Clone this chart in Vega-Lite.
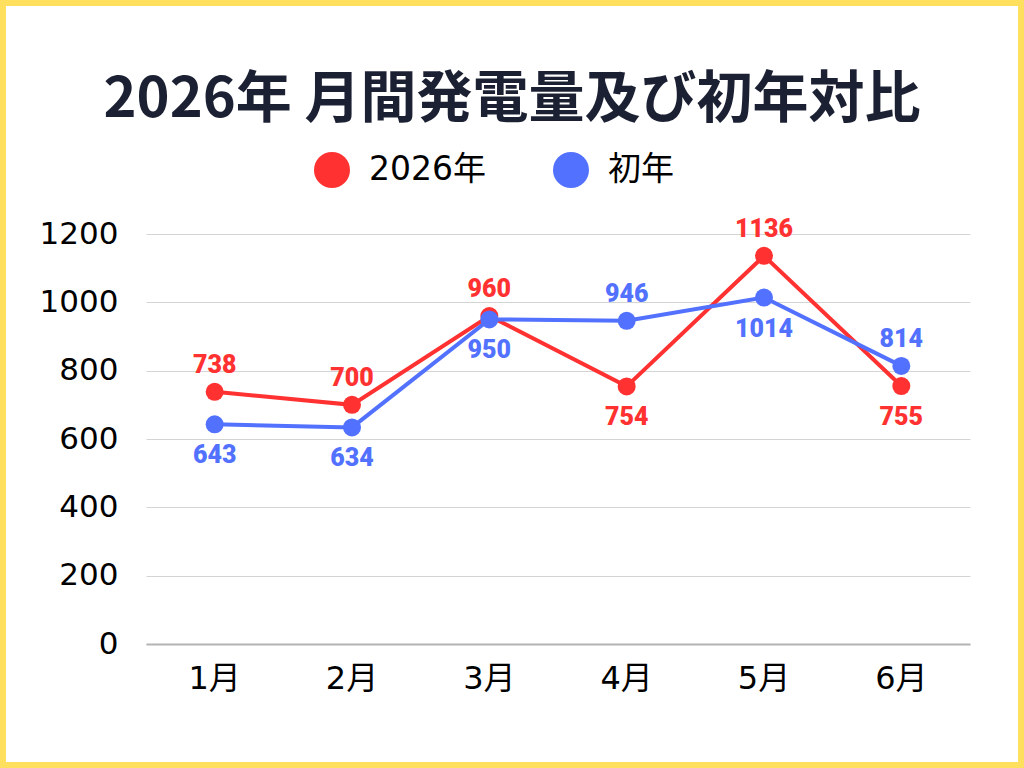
{
  "$schema": "https://vega.github.io/schema/vega-lite/v6.json",
  "width": 1024,
  "height": 768,
  "autosize": "none",
  "padding": 0,
  "background": "#ffffff",
  "title": {
    "text": "2026年 月間発電量及び初年対比",
    "frame": "group",
    "anchor": "middle",
    "offset": -173,
    "baseline": "alphabetic",
    "font": "Noto Sans CJK JP",
    "fontSize": 56,
    "fontWeight": "bold",
    "color": "#1c2033"
  },
  "data": {
    "values": [
      {"month": "1月", "series": "2026年", "value": 738},
      {"month": "1月", "series": "初年", "value": 643},
      {"month": "2月", "series": "2026年", "value": 700},
      {"month": "2月", "series": "初年", "value": 634},
      {"month": "3月", "series": "2026年", "value": 960},
      {"month": "3月", "series": "初年", "value": 950},
      {"month": "4月", "series": "2026年", "value": 754},
      {"month": "4月", "series": "初年", "value": 946},
      {"month": "5月", "series": "2026年", "value": 1136},
      {"month": "5月", "series": "初年", "value": 1014},
      {"month": "6月", "series": "2026年", "value": 755},
      {"month": "6月", "series": "初年", "value": 814}
    ]
  },
  "transform": [
    {"joinaggregate": [{"op": "max", "field": "value", "as": "monthMax"}], "groupby": ["month"]}
  ],
  "encoding": {
    "x": {
      "field": "month",
      "type": "nominal",
      "sort": null,
      "scale": {"type": "band", "range": [146, 970], "paddingInner": 0, "paddingOuter": 0},
      "axis": {
        "title": null,
        "orient": "bottom",
        "offset": -124,
        "labelAngle": 0,
        "ticks": false,
        "domain": true,
        "domainColor": "#b3b3b3",
        "domainWidth": 2,
        "grid": false,
        "labelPadding": 19,
        "labelFont": "'DejaVu Sans', 'Noto Sans CJK JP'",
        "labelFontSize": 32,
        "labelColor": "#000000"
      }
    },
    "y": {
      "field": "value",
      "type": "quantitative",
      "scale": {"domain": [0, 1200], "range": [644, 234], "nice": false, "zero": true},
      "axis": {
        "title": null,
        "orient": "left",
        "offset": -146,
        "values": [0, 200, 400, 600, 800, 1000, 1200],
        "format": "d",
        "ticks": false,
        "domain": false,
        "grid": true,
        "gridColor": "#d4d4d4",
        "gridWidth": 1.2,
        "labelPadding": 28,
        "labelFont": "'DejaVu Sans', 'Noto Sans CJK JP'",
        "labelFontSize": 31,
        "labelColor": "#000000"
      }
    },
    "color": {
      "field": "series",
      "type": "nominal",
      "scale": {"domain": ["2026年", "初年"], "range": ["#ff3131", "#5271ff"]},
      "legend": {
        "title": null,
        "orient": "none",
        "direction": "horizontal",
        "legendX": 314,
        "legendY": 152,
        "padding": 0,
        "symbolType": "circle",
        "symbolSize": 1296,
        "symbolStrokeWidth": 0,
        "symbolOpacity": 1,
        "labelOffset": 19,
        "columnPadding": 67,
        "labelFont": "'DejaVu Sans', 'Noto Sans CJK JP'",
        "labelFontSize": 33,
        "labelColor": "#000000"
      }
    }
  },
  "layer": [
    {
      "mark": {"type": "line", "strokeWidth": 4}
    },
    {
      "mark": {"type": "point", "shape": "circle", "filled": true, "size": 324, "opacity": 1}
    },
    {
      "transform": [{"filter": "datum.value === datum.monthMax"}],
      "mark": {"type": "text", "baseline": "middle", "align": "center", "dy": -27, "font": "Roboto", "fontWeight": 900, "fontSize": 25},
      "encoding": {"text": {"field": "value", "type": "quantitative", "format": "d"}}
    },
    {
      "transform": [{"filter": "datum.value < datum.monthMax"}],
      "mark": {"type": "text", "baseline": "middle", "align": "center", "dy": 31, "font": "Roboto", "fontWeight": 900, "fontSize": 25},
      "encoding": {"text": {"field": "value", "type": "quantitative", "format": "d"}}
    }
  ],
  "config": {
    "view": {"stroke": "#ffdf5e", "strokeWidth": 12, "fill": "#ffffff"}
  }
}
